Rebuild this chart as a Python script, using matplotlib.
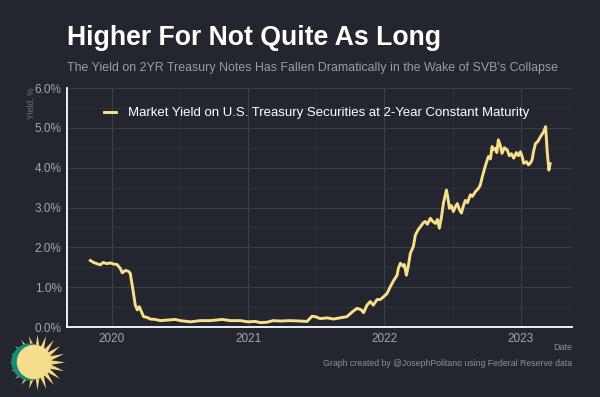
import matplotlib
matplotlib.use('Agg')
import matplotlib.pyplot as plt
from matplotlib.ticker import MultipleLocator, FixedLocator
from matplotlib.patches import Circle

# 2-year treasury yield (decimal year, percent)
years = [2019.841, 2019.865, 2019.914, 2019.936, 2019.963, 2019.988, 2020.012, 2020.037,
         2020.061, 2020.076, 2020.098, 2020.12, 2020.134, 2020.154, 2020.171, 2020.186,
         2020.2, 2020.215, 2020.232, 2020.259, 2020.281, 2020.318, 2020.355, 2020.428,
         2020.465, 2020.502, 2020.575, 2020.648, 2020.722, 2020.81, 2020.868, 2020.942,
         2021.0, 2021.052, 2021.089, 2021.138, 2021.184, 2021.235, 2021.309, 2021.383,
         2021.432, 2021.468, 2021.493, 2021.529, 2021.579, 2021.625, 2021.676, 2021.725,
         2021.764, 2021.799, 2021.83, 2021.847, 2021.872, 2021.896, 2021.918, 2021.946,
         2021.97, 2021.994, 2022.019, 2022.043, 2022.068, 2022.093, 2022.102, 2022.117,
         2022.137, 2022.146, 2022.161, 2022.176, 2022.19, 2022.212, 2022.227, 2022.249,
         2022.264, 2022.286, 2022.30, 2022.315, 2022.337, 2022.352, 2022.374, 2022.389,
         2022.403, 2022.418, 2022.433, 2022.455, 2022.47, 2022.477, 2022.491, 2022.506,
         2022.521, 2022.535, 2022.55, 2022.565, 2022.58, 2022.594, 2022.609, 2022.631,
         2022.646, 2022.668, 2022.69, 2022.704, 2022.719, 2022.741, 2022.763, 2022.778,
         2022.79, 2022.80, 2022.814, 2022.825, 2022.836, 2022.851, 2022.863, 2022.88,
         2022.9, 2022.917, 2022.932, 2022.949, 2022.968, 2022.983, 2022.998, 2023.013,
         2023.022, 2023.043, 2023.057, 2023.072, 2023.084, 2023.094, 2023.109, 2023.124,
         2023.146, 2023.168, 2023.183, 2023.195, 2023.207, 2023.216]
yields = [1.67, 1.62, 1.56, 1.62, 1.59, 1.61, 1.58, 1.57,
          1.47, 1.36, 1.42, 1.40, 1.35, 0.93, 0.55, 0.43,
          0.51, 0.39, 0.26, 0.24, 0.20, 0.19, 0.16, 0.18,
          0.19, 0.16, 0.13, 0.16, 0.16, 0.19, 0.16, 0.16,
          0.13, 0.14, 0.11, 0.12, 0.16, 0.15, 0.16, 0.15,
          0.14, 0.27, 0.26, 0.21, 0.23, 0.20, 0.23, 0.26,
          0.38, 0.47, 0.43, 0.36, 0.55, 0.64, 0.55, 0.69,
          0.69, 0.76, 0.84, 1.01, 1.17, 1.30, 1.47, 1.60,
          1.53, 1.57, 1.30, 1.55, 1.85, 2.02, 2.31, 2.45,
          2.52, 2.62, 2.65, 2.58, 2.73, 2.66, 2.60, 2.70,
          2.48, 2.75, 3.11, 3.44, 3.15, 2.98, 3.05, 2.90,
          3.02, 3.10, 2.95, 2.86, 3.05, 3.18, 3.12, 3.32,
          3.28, 3.40, 3.48, 3.57, 3.78, 4.05, 4.28, 4.22,
          4.53, 4.45, 4.49, 4.38, 4.70, 4.55, 4.36, 4.50,
          4.45, 4.30, 4.35, 4.24, 4.38, 4.30, 4.40, 4.25,
          4.11, 4.15, 4.07, 4.12, 4.20, 4.40, 4.61, 4.65,
          4.78, 4.90, 5.03, 4.39, 3.94, 4.10]

year_ticks = [2020, 2021, 2022, 2023]
year_labels = ['2020', '2021', '2022', '2023']

bg = '#23262e'
grey = '#a3a6ac'
line_col = '#f8e08a'

plt.rcParams['font.family'] = ['Liberation Sans', 'DejaVu Sans']

fig = plt.figure(figsize=(6, 3.97), dpi=100, facecolor=bg)
ax = fig.add_axes([0.1117, 0.1763, 0.8417, 0.602], facecolor=bg)

ax.plot(years, yields, color=line_col, lw=2.1, solid_joinstyle='round',
        label='Market Yield on U.S. Treasury Securities at 2-Year Constant Maturity')

ax.set_xlim(2019.670, 2023.377)
ax.set_ylim(0, 6)
ax.xaxis.set_major_locator(FixedLocator(year_ticks))
ax.set_xticklabels(year_labels)
ax.xaxis.set_minor_locator(MultipleLocator(0.5))
ax.yaxis.set_major_locator(MultipleLocator(1))
ax.yaxis.set_minor_locator(MultipleLocator(0.5))
ax.yaxis.set_major_formatter(lambda v, p: '%.1f%%' % v)

ax.grid(which='major', color='#3a3e47', lw=0.8)
ax.grid(which='minor', color='#30343c', lw=0.6)
ax.set_axisbelow(True)
ax.tick_params(which='both', length=0, colors=grey, labelsize=8.5, pad=4)

for s in ['top', 'right']:
    ax.spines[s].set_visible(False)
for s in ['left', 'bottom']:
    ax.spines[s].set_color('white')
    ax.spines[s].set_linewidth(1.3)

leg = ax.legend(loc='upper left', bbox_to_anchor=(0.05, 0.97), frameon=False,
                fontsize=9.5, handlelength=0.9, handletextpad=0.9)
for t in leg.get_texts():
    t.set_color('white')

fig.text(67/600, 1 - 38/397, 'Higher For Not Quite As Long', color='white',
         fontsize=19.2, fontweight='bold', va='center', ha='left')
fig.text(67/600, 1 - 68/397,
         "The Yield on 2YR Treasury Notes Has Fallen Dramatically in the Wake of SVB's Collapse",
         color='#9a9da3', fontsize=8.9, va='center', ha='left')
fig.text(31/600, 1 - 103/397, 'Yield, %', color='#6f737a', fontsize=6.3,
         rotation=90, va='center', ha='center')
fig.text(572/600, 1 - 347/397, 'Date', color='#8c9096', fontsize=6.5, ha='right', va='center')
fig.text(572/600, 1 - 364/397, 'Graph created by @JosephPolitano using Federal Reserve data',
         color='#8c9096', fontsize=6.3, ha='right', va='center')

# little sun logo bottom left
lax = fig.add_axes([0, 0, 70/600, 70/397])
lax.set_xlim(0, 70)
lax.set_ylim(0, 70)
lax.set_aspect('equal')
lax.axis('off')
lax.plot([37], [35], marker=(20, 1, 0), markersize=40, color='#f5d979', mec='none', zorder=1)
lax.add_patch(Circle((30, 35), 18, color='#188a78', zorder=2))
lax.add_patch(Circle((34, 35), 16.5, color='#f6de8c', zorder=3))

fig.savefig('out.png', dpi=100, facecolor=bg)
